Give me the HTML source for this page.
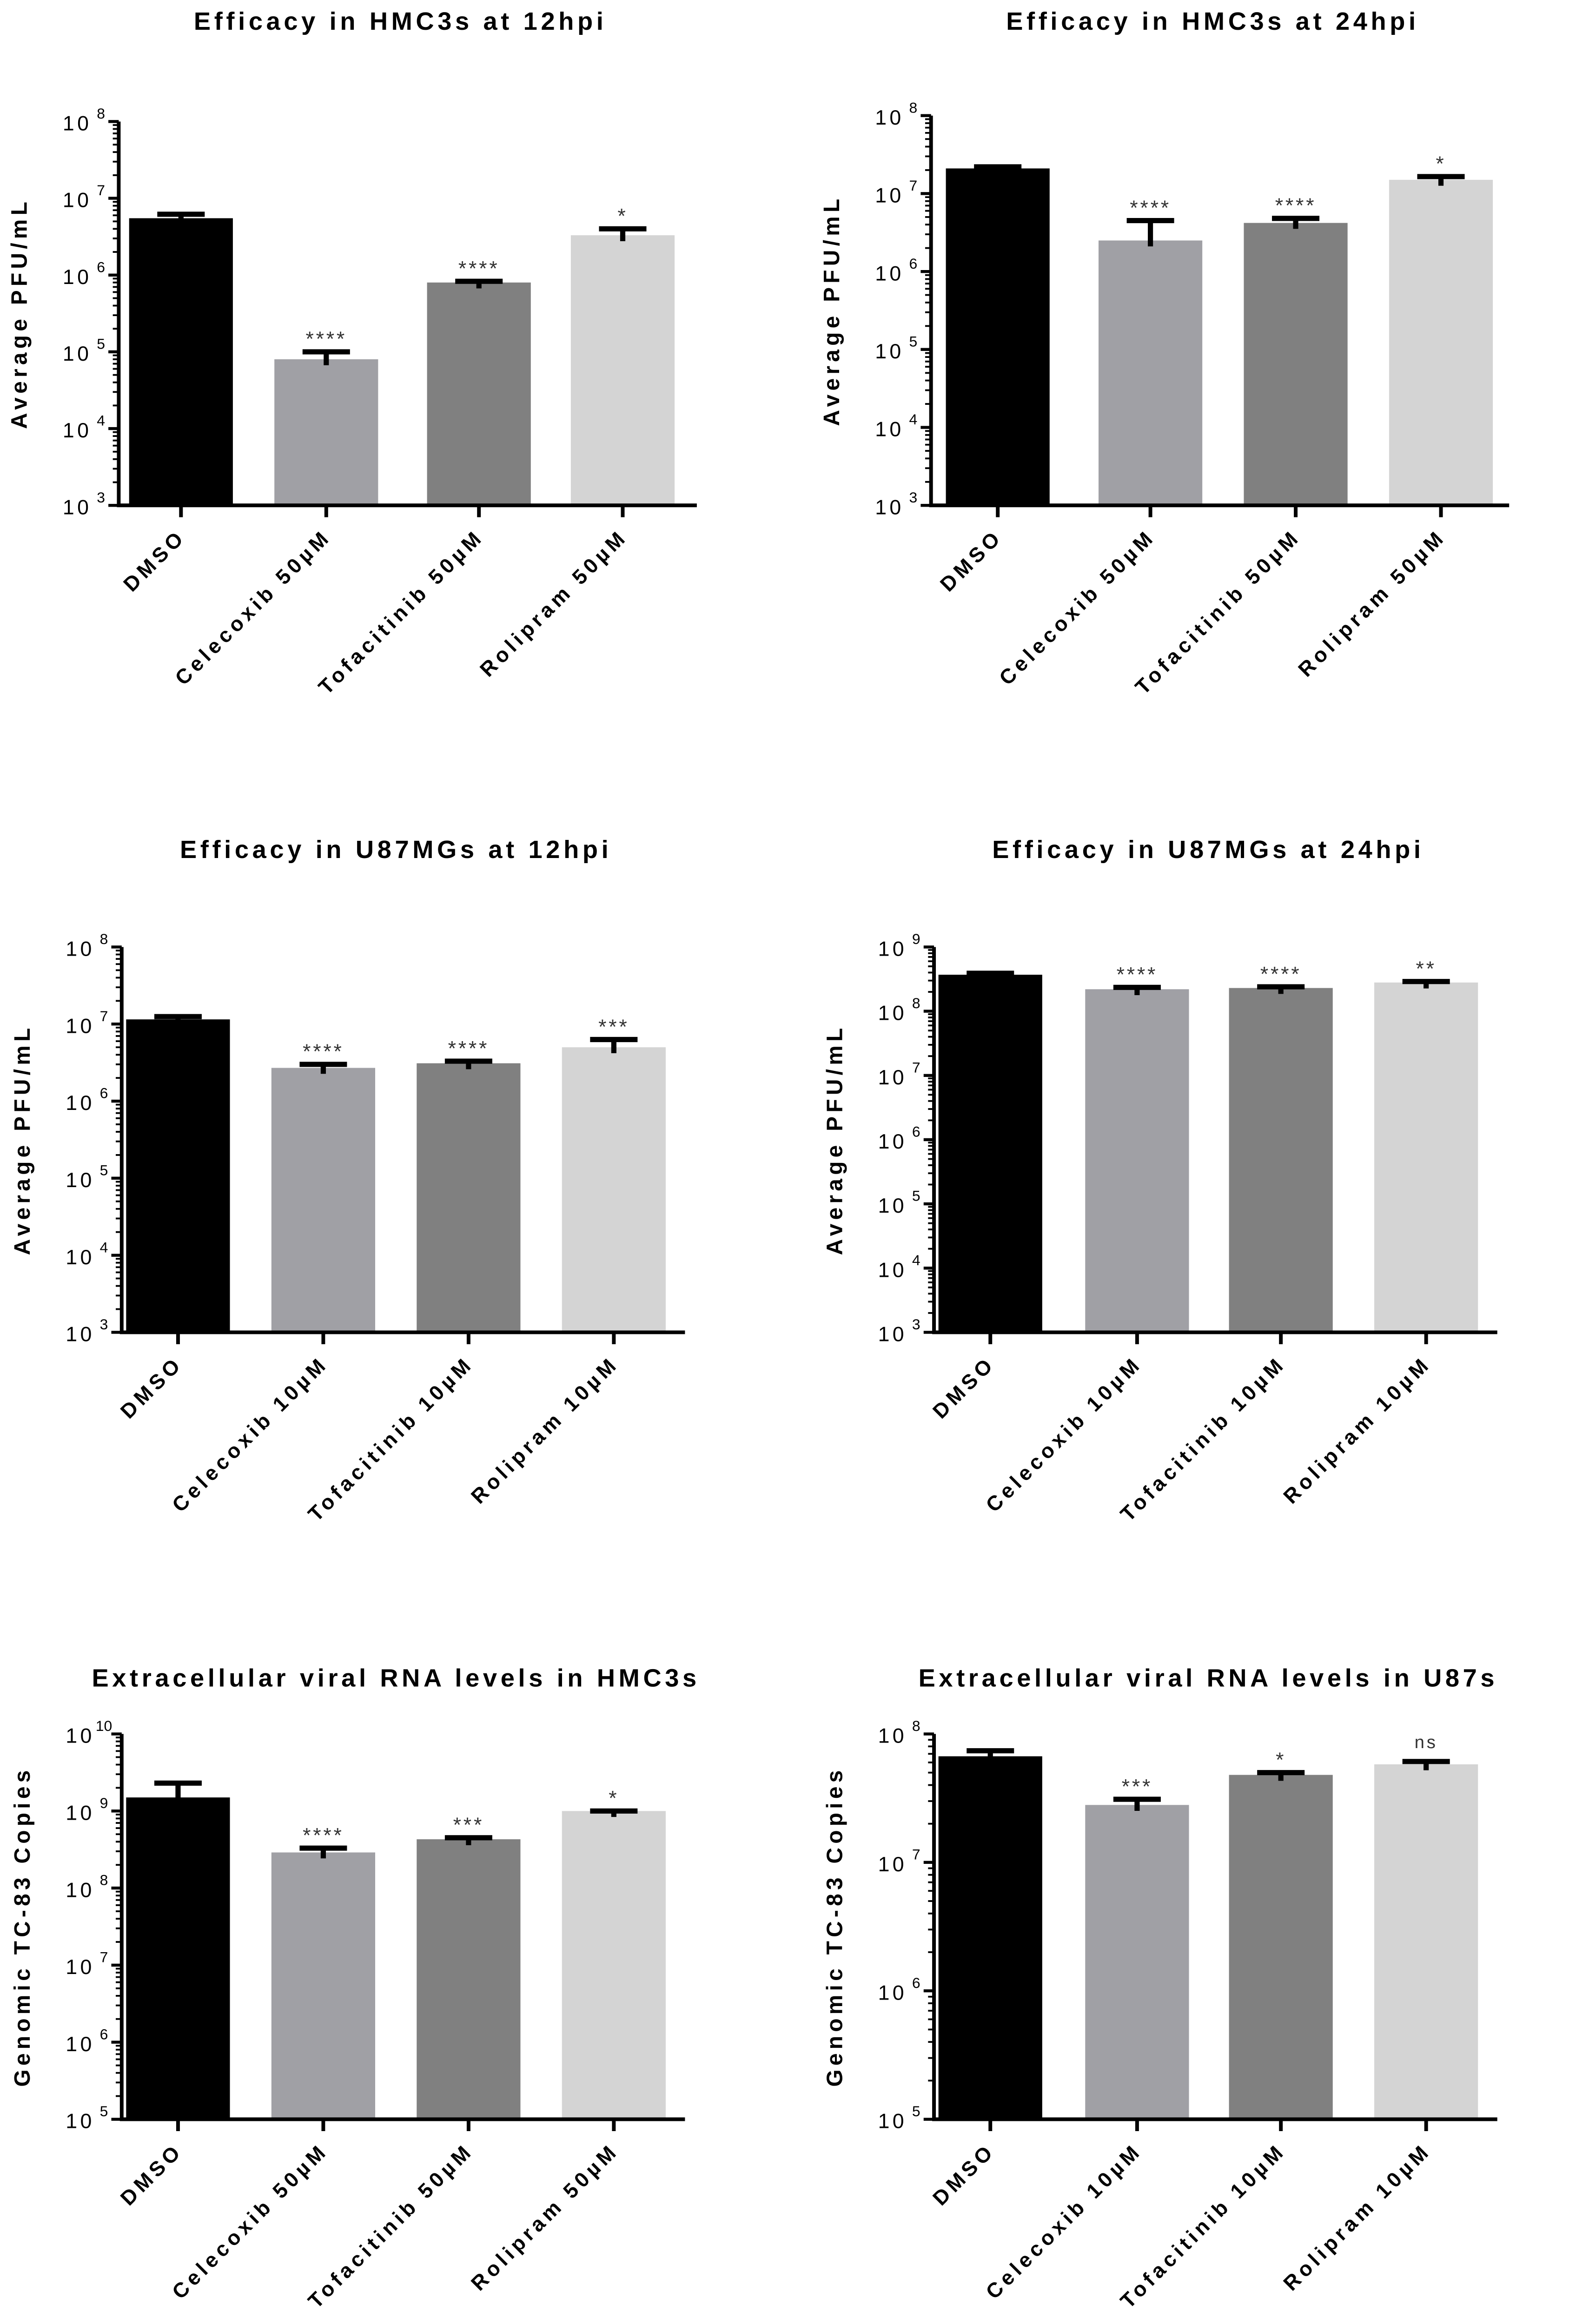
<!DOCTYPE html>
<html><head><meta charset="utf-8"><style>
html,body{margin:0;padding:0;background:#fff;overflow:hidden;}
svg{display:block;font-family:"Liberation Sans",Arial,sans-serif;}
</style></head><body>
<svg id="root" width="3390" height="5092" viewBox="0 0 1063 1597" xmlns="http://www.w3.org/2000/svg"></svg>
<script>
// ---- data per panel ----
const titles = ["Efficacy in HMC3s at 12hpi","Efficacy in HMC3s at 24hpi","Efficacy in U87MGs at 12hpi","Efficacy in U87MGs at 24hpi","Extracellular viral RNA levels in HMC3s","Extracellular viral RNA levels in U87s"];
const yLabels = ["Average PFU/mL","Average PFU/mL","Average PFU/mL","Average PFU/mL","Genomic TC-83 Copies","Genomic TC-83 Copies"];
const cats50 = ["DMSO","Celecoxib 50\u00b5M","Tofacitinib 50\u00b5M","Rolipram 50\u00b5M"];
const cats10 = ["DMSO","Celecoxib 10\u00b5M","Tofacitinib 10\u00b5M","Rolipram 10\u00b5M"];
const p1Values = [5.5e6, 8e4, 8e5, 3.3e6];
const p1Errors = [6.2e6, 1e5, 8.3e5, 4e6];
const p1Stars = ["", "****", "****", "*"];
const p2Values = [2.1e7, 2.5e6, 4.2e6, 1.5e7];
const p2Errors = [2.2e7, 4.5e6, 4.8e6, 1.65e7];
const p2Stars = ["", "****", "****", "*"];
const p3Values = [1.15e7, 2.7e6, 3.1e6, 5e6];
const p3Errors = [1.25e7, 3e6, 3.3e6, 6.3e6];
const p3Stars = ["", "****", "****", "***"];
const p4Values = [3.7e8, 2.2e8, 2.3e8, 2.8e8];
const p4Errors = [3.9e8, 2.35e8, 2.4e8, 2.9e8];
const p4Stars = ["", "****", "****", "**"];
const p5Values = [1.5e9, 2.9e8, 4.3e8, 1e9];
const p5Errors = [2.3e9, 3.3e8, 4.5e8, 1e9];
const p5Stars = ["", "****", "***", "*"];
const p6Values = [6.7e7, 2.8e7, 4.8e7, 5.8e7];
const p6Errors = [7.4e7, 3.1e7, 5e7, 6.1e7];
const p6Stars = ["", "***", "*", "ns"];
const p1Range = [3, 8], p2Range = [3, 8], p3Range = [3, 8], p4Range = [3, 9], p5Range = [5, 10], p6Range = [5, 8];

const colors = ["#000000","#a0a0a5","#808080","#d4d4d4"];
const NS = "http://www.w3.org/2000/svg";
const root = document.getElementById('root');
function mk(tag, attrs, parent){const e=document.createElementNS(NS,tag);for(const k in attrs)e.setAttribute(k,attrs[k]);(parent||root).appendChild(e);return e;}

const layout = [
 {ax:80, top:82, bot:341, ty:14, cx:[122,220,323,420], right:470},
 {ax:628, top:78, bot:341, ty:14, cx:[673,776,874,972], right:1018},
 {ax:82, top:639, bot:899, ty:573, cx:[120,218,316,414], right:462},
 {ax:630, top:639, bot:899, ty:573, cx:[668,767,864,962], right:1010},
 {ax:82, top:1170, bot:1430, ty:1132, cx:[120,218,316,414], right:462},
 {ax:630, top:1170, bot:1430, ty:1132, cx:[668,767,864,962], right:1010}
];
const panels = [
 [p1Values,p1Errors,p1Stars,p1Range,cats50],
 [p2Values,p2Errors,p2Stars,p2Range,cats50],
 [p3Values,p3Errors,p3Stars,p3Range,cats10],
 [p4Values,p4Errors,p4Stars,p4Range,cats10],
 [p5Values,p5Errors,p5Stars,p5Range,cats50],
 [p6Values,p6Errors,p6Stars,p6Range,cats10]
];

panels.forEach((p,i)=>{
  const [vals,errs,stars,range,cats] = p;
  const L = layout[i];
  const g = mk('g',{});
  
  
  const y = v => L.bot - (Math.log10(v)-range[0])/(range[1]-range[0])*(L.bot-L.top);
  const titleX = (L.ax + L.right)/2 - 5;
  const t = mk('text',{x:titleX,y:L.ty+6,'text-anchor':'middle','font-size':17,'font-weight':'bold','letter-spacing':'2.4'},g);
  t.textContent = titles[i];
  
  
  const bw = 70;
  vals.forEach((v,j)=>{
    const cx = L.cx[j];
    const r = mk('rect',{x:cx-bw/2,y:y(v),width:bw,height:L.bot-y(v),fill:colors[j]},g);
    
    
    const ey = y(errs[j]);
    const eb = mk('path',{d:`M${cx} ${y(v)+4}V${ey}M${cx-16} ${ey}H${cx+16}`,stroke:'#000','stroke-width':3.5,fill:'none'},g);
    
    
    if(stars[j]){
      const isNs = stars[j]==='ns';
      const s = mk('text',{x:cx,y:isNs?ey-9:ey-4,'text-anchor':'middle','font-size':isNs?12:14,'letter-spacing':'1.5',fill:'#333'},g);
      s.textContent = stars[j];
      
      
    }
    mk('line',{x1:cx,x2:cx,y1:L.bot,y2:L.bot+8,stroke:'#000','stroke-width':2.5},g);
    const lab = mk('text',{transform:`translate(${cx+4},${L.bot+22}) rotate(-45)`,'text-anchor':'end','font-size':14,'font-weight':'bold','letter-spacing':'2.6'},g);
    lab.textContent = cats[j];
    
    
  });
  const axis = mk('path',{d:`M${L.ax} ${L.top}V${L.bot}H${L.right}`,stroke:'#000','stroke-width':2.5,fill:'none'},g);
  
  
  for(let d=range[0]; d<=range[1]; d++){
    const yy = y(Math.pow(10,d));
    mk('line',{x1:L.ax-7,x2:L.ax,y1:yy,y2:yy,stroke:'#000','stroke-width':2},g);
    const tl = mk('text',{x:L.ax-28,y:yy+6,'text-anchor':'middle','font-size':14,'letter-spacing':'2'},g);
    tl.textContent = '10';
    
    
    const sp = mk('text',{x:L.ax-12,y:yy-2,'text-anchor':'middle','font-size':10},g);
    sp.textContent = String(d);
    if(d<range[1]){
      for(let m=2;m<=9;m++){
        const ym = y(m*Math.pow(10,d));
        mk('line',{x1:L.ax-4,x2:L.ax,y1:ym,y2:ym,stroke:'#000','stroke-width':1.2},g);
      }
    }
  }
  const yl = mk('text',{transform:`translate(${L.ax-62},${(L.top+L.bot)/2}) rotate(-90)`,'text-anchor':'middle','font-size':15,'font-weight':'bold','letter-spacing':'2.6'},g);
  yl.textContent = yLabels[i];
  
  
});
</script>
</body></html>
